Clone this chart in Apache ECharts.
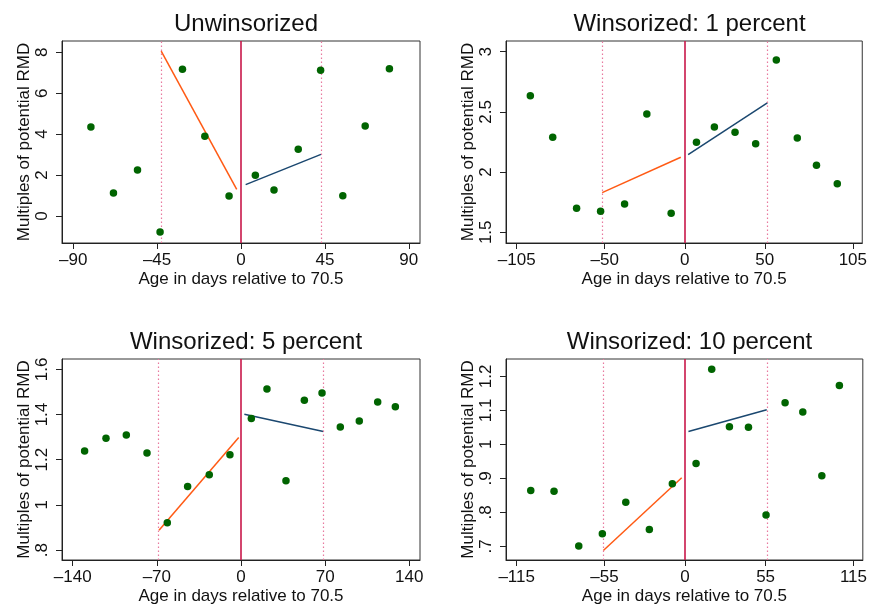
<!DOCTYPE html>
<html>
<head>
<meta charset="utf-8">
<script src="https://cdn.jsdelivr.net/npm/echarts@6/dist/echarts.min.js"></script>
<style>
html, body { margin: 0; padding: 0; background: #fff; }
#chart { width: 870px; height: 609px; }
</style>
</head>
<body>
<div id="chart"></div>
<script>
// panel titles
const titles = ['Unwinsorized', 'Winsorized: 1 percent', 'Winsorized: 5 percent', 'Winsorized: 10 percent']

// binned means (age in days relative to 70.5, multiples of potential RMD)
const unwX = [-80.5, -68.4, -55.5, -43.4, -31.4, -19.4, -6.4, 7.7, 17.7, 30.7, 42.7, 54.6, 66.6, 79.6]
const unwY = [4.35, 1.12, 2.25, -0.78, 7.17, 3.9, 0.98, 1.99, 1.27, 3.26, 7.12, 0.99, 4.40, 7.2]
const w1X = [-96.5, -82.5, -67.6, -52.6, -37.6, -23.7, -8.5, 7.3, 18.5, 31.4, 44.3, 57.2, 70.3, 82.3, 95.3]
const w1Y = [2.635, 2.29, 1.70, 1.674, 1.735, 2.483, 1.658, 2.247, 2.375, 2.33, 2.236, 2.931, 2.283, 2.056, 1.904]
const w5X = [-130.1, -112.3, -95.4, -78.2, -61.3, -44.4, -26.4, -9.2, 8.6, 21.6, 37.4, 52.7, 67.4, 82.6, 98.4, 113.7, 128.4]
const w5Y = [1.239, 1.295, 1.310, 1.230, 0.921, 1.082, 1.133, 1.222, 1.383, 1.513, 1.107, 1.463, 1.496, 1.345, 1.372, 1.456, 1.435]
const w10X = [-105.4, -89.5, -72.6, -56.5, -40.5, -24.4, -8.7, 7.5, 18.2, 30.3, 43.3, 55.3, 68.3, 80.4, 93.4, 105.4]
const w10Y = [0.864, 0.862, 0.701, 0.737, 0.830, 0.750, 0.884, 0.944, 1.221, 1.052, 1.050, 0.792, 1.122, 1.095, 0.908, 1.173]

// local linear fits, left and right of the cutoff
const unwFitL = [[-42.8, 8.06], [-2.3, 1.30]]
const unwFitR = [[2.5, 1.53], [42.9, 3.01]]
const w1FitL = [[-51.6, 1.829], [-2.5, 2.123]]
const w1FitR = [[2.1, 2.145], [51.6, 2.574]]
const w5FitL = [[-68.2, 0.888], [-1.9, 1.298]]
const w5FitR = [[2.8, 1.401], [68.5, 1.325]]
const w10FitL = [[-55.8, 0.688], [-2.3, 0.902]]
const w10FitR = [[2.3, 1.038], [55.8, 1.102]]

// bandwidths (dotted lines)
const bandwidths = [43, 51.7, 68.6, 56.2]

// tick labels
const xTicks = [[-90, -45, 0, 45, 90], [-105, -50, 0, 50, 105], [-140, -70, 0, 70, 140], [-115, -55, 0, 55, 115]]
const yTicks = [[0, 2, 4, 6, 8], [1.5, 2, 2.5, 3], [0.8, 1, 1.2, 1.4, 1.6], [0.7, 0.8, 0.9, 1, 1.1, 1.2]]

const xRanges = [[-96, 96], [-111.7, 110.9], [-148.9, 148.9], [-122.3, 121.4]]
const yRanges = [[-1.32, 8.55], [1.411, 3.089], [0.756, 1.646], [0.660, 1.251]]

const pts = [[unwX, unwY], [w1X, w1Y], [w5X, w5Y], [w10X, w10Y]]
const fits = [[unwFitL, unwFitR], [w1FitL, w1FitR], [w5FitL, w5FitR], [w10FitL, w10FitR]]

const font = "'Liberation Sans', Arial, Helvetica, sans-serif"
const grids = [
    { left: 62, top: 41, width: 358, height: 202 },
    { left: 506, top: 41, width: 357, height: 202 },
    { left: 62, top: 359, width: 358, height: 201 },
    { left: 506, top: 359, width: 357, height: 201 }
]

function fmtNum(v) {
    let s = String(Math.abs(Math.round(v * 100) / 100))
    if (s.indexOf('0.') === 0) s = s.slice(1)
    return (v < 0 ? '\u2013' : '') + s
}

const option = {
    backgroundColor: '#fff',
    animation: false,
    title: [],
    grid: [],
    xAxis: [],
    yAxis: [],
    series: []
}

grids.forEach((g, i) => {
    option.grid.push({
        left: g.left, top: g.top, width: g.width, height: g.height,
        show: true, borderColor: '#333', borderWidth: 1, backgroundColor: '#fff'
    })
    option.title.push({
        text: titles[i],
        left: g.left + g.width / 2,
        top: i < 2 ? 7 : 325,
        textAlign: 'center',
        textStyle: { fontFamily: font, fontSize: 24, fontWeight: 'normal', color: '#111' }
    })
    option.xAxis.push({
        type: 'value', gridIndex: i,
        min: xRanges[i][0], max: xRanges[i][1],
        name: 'Age in days relative to 70.5',
        nameLocation: 'middle', nameGap: 28,
        nameTextStyle: { fontFamily: font, fontSize: 17, color: '#111' },
        axisLine: { show: true, onZero: false, lineStyle: { color: '#222', width: 1 } },
        axisTick: { show: true, length: 6, customValues: xTicks[i], lineStyle: { color: '#222' } },
        axisLabel: {
            customValues: xTicks[i], margin: 9,
            fontFamily: font, fontSize: 17, color: '#111',
            formatter: fmtNum
        },
        splitLine: { show: false }
    })
    option.yAxis.push({
        type: 'value', gridIndex: i,
        min: yRanges[i][0], max: yRanges[i][1],
        name: 'Multiples of potential RMD',
        nameLocation: 'middle', nameGap: 29,
        nameTextStyle: { fontFamily: font, fontSize: 17, color: '#111' },
        axisLine: { show: true, onZero: false, lineStyle: { color: '#222', width: 1 } },
        axisTick: { show: true, length: 6, customValues: yTicks[i], lineStyle: { color: '#222' } },
        axisLabel: {
            customValues: yTicks[i], margin: 11, rotate: 90,
            fontFamily: font, fontSize: 17, color: '#111',
            formatter: fmtNum
        },
        splitLine: { show: false }
    })

    const bw = bandwidths[i]
    option.series.push({
        type: 'scatter', xAxisIndex: i, yAxisIndex: i,
        symbolSize: 7.5,
        itemStyle: { color: '#006400', opacity: 1 },
        data: pts[i][0].map((x, k) => [x, pts[i][1][k]]),
        z: 5,
        markLine: {
            silent: true, symbol: 'none', label: { show: false },
            animation: false,
            data: [
                { xAxis: 0, lineStyle: { color: '#c8174a', width: 1.6, type: 'solid' } },
                { xAxis: -bw, lineStyle: { color: '#e8799e', width: 1.2, type: [1.5, 2.5] } },
                { xAxis: bw, lineStyle: { color: '#e8799e', width: 1.2, type: [1.5, 2.5] } }
            ]
        }
    })
    option.series.push({
        type: 'line', xAxisIndex: i, yAxisIndex: i,
        data: fits[i][0], symbol: 'none',
        lineStyle: { color: '#ff5a14', width: 1.5 }, z: 4
    })
    option.series.push({
        type: 'line', xAxisIndex: i, yAxisIndex: i,
        data: fits[i][1], symbol: 'none',
        lineStyle: { color: '#1a476f', width: 1.5 }, z: 4
    })
})

const chart = echarts.init(document.getElementById('chart'), null, { renderer: 'canvas' })
chart.setOption(option)
</script>
</body>
</html>
